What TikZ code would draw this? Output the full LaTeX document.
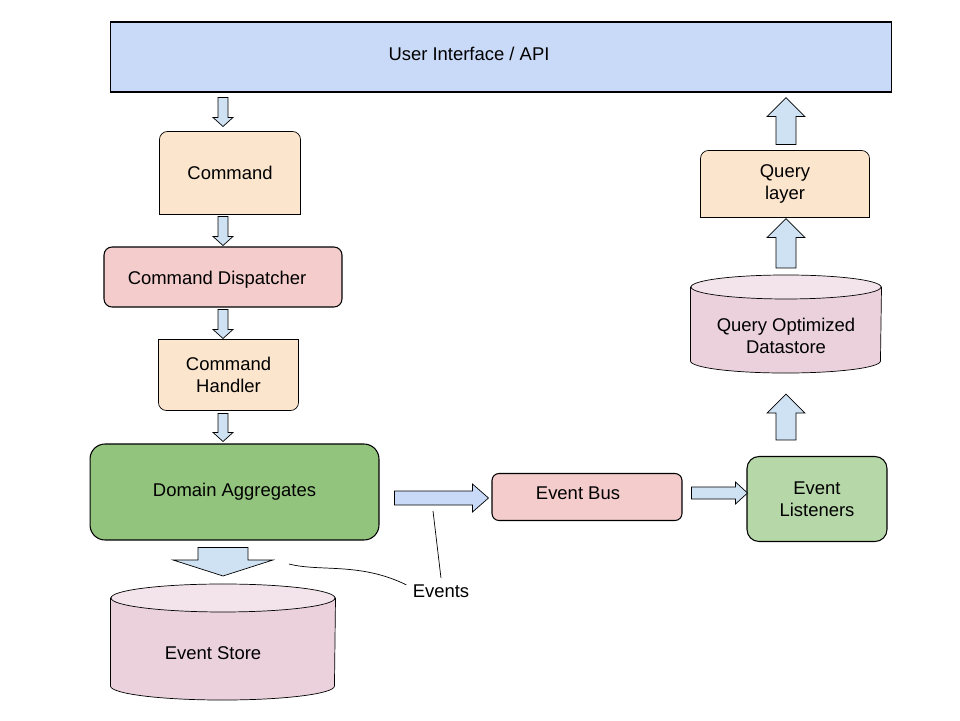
\documentclass[tikz,border=0pt]{standalone}
\usepackage{fontspec}
\setmainfont{Liberation Sans}
\usetikzlibrary{calc,backgrounds}

\definecolor{uiblue}{HTML}{C9DAF8}
\definecolor{arrblue}{HTML}{CFE2F3}
\definecolor{cmdorange}{HTML}{FCE5CD}
\definecolor{busred}{HTML}{F4CCCC}
\definecolor{agggreen}{HTML}{93C47D}
\definecolor{lstgreen}{HTML}{B6D7A8}
\definecolor{dbpink}{HTML}{EAD1DC}
\definecolor{dbtop}{HTML}{F2E4EA}

% block arrow: [style]{from}{to}{shaft half width}{head half width}{head length}
\newcommand{\blockarrow}[6][]{%
  \draw [blk, #1] let \p1=#2, \p2=#3, \p3=($(\p2)-(\p1)$),
    \n1={veclen(\x3,\y3)}, \n2={atan2(\y3,\x3)} in
    ($(\p1)+(\n2+90:#4)$) -- ++(\n2:\n1-#6) -- ++(\n2+90:#5-#4) -- (\p2)
    -- ($(\p2)+(\n2+180:#6)+(\n2-90:#5)$) -- ++(\n2+90:#5-#4)
    -- ++(\n2+180:\n1-#6) -- cycle;}

\begin{document}
\begin{tikzpicture}[x=0.02cm, y=-0.02cm, line width=0.6pt,
		every node/.style={font=\fontsize{10.5}{12.5}\selectfont, align=center},
		blk/.style={draw=black, fill=arrblue, line join=miter}]
		\useasboundingbox (0,0) rectangle (960,720);

		\node [draw, fill=uiblue, minimum width=15.64cm, minimum height=1.4cm,
			label={[name=uitxt, shift={(-32,-3)}]center:User Interface / API}] (ui) at (501,57) {};
		\node [minimum width=2.8cm, minimum height=1.64cm] (cmd) at (230,173) {Command};
		\node [draw, rounded corners=0.16cm, fill=busred, minimum width=4.76cm, minimum height=1.2cm,
			label={[name=disptxt, shift={(-6,3)}]center:Command Dispatcher}] (disp) at (223,277) {};
		\node [minimum width=2.78cm, minimum height=1.4cm] (hdl) at (228.5,375) {Command\\Handler};
		\node [draw, rounded corners=0.3cm, fill=agggreen, minimum width=5.78cm, minimum height=1.92cm] (agg) at (234.5,492) {Domain Aggregates};
		\node [minimum width=4.48cm, minimum height=1.74cm,
			label={[name=storetxt, shift={(-10,-3)}]center:Event Store}] (store) at (223,656) {};
		\node [draw, rounded corners=0.14cm, fill=busred, minimum width=3.8cm, minimum height=0.94cm,
			label={[name=bustxt, shift={(-9,-4)}]center:Event Bus}] (bus) at (587,497) {};
		\node [draw, rounded corners=0.24cm, fill=lstgreen, minimum width=2.8cm, minimum height=1.7cm] (lst) at (817,499) {Event\\Listeners};
		\node [minimum width=3.8cm, minimum height=1.46cm] (qds) at (786,336) {Query Optimized\\Datastore};
		\node [minimum width=3.36cm, minimum height=1.32cm] (qry) at (785,184) {Query\\layer};
		\node [] (lbl) at (441,591) {Events};
		\coordinate (evA) at (289,564);
		\coordinate (evB) at (433,511);

		\begin{pgfonlayer}{background}
		\draw [fill=cmdorange] (cmd.south west) [rounded corners=0.16cm] -- (cmd.north west) -- (cmd.north east) [sharp corners] -- (cmd.south east) -- cycle;
		\draw [fill=cmdorange] (hdl.north west) [rounded corners=0.16cm] -- (hdl.south west) -- (hdl.south east) [sharp corners] -- (hdl.north east) -- cycle;
		\draw [fill=cmdorange] (qry.south west) [rounded corners=0.16cm] -- (qry.north west) -- (qry.north east) [sharp corners] -- (qry.south east) -- cycle;

		\draw [fill=dbpink] ([yshift=0.28cm]store.north west) -- ([yshift=0.28cm]store.south west) arc [start angle=180, end angle=360, x radius=2.24cm, y radius=0.28cm] -- ([yshift=0.28cm]store.north east) -- cycle;
		\draw [fill=dbtop] ([yshift=0.28cm]store.north) ellipse [x radius=2.24cm, y radius=0.28cm];
		\draw [fill=dbpink] ([yshift=0.24cm]qds.north west) -- ([yshift=0.24cm]qds.south west) arc [start angle=180, end angle=360, x radius=1.9cm, y radius=0.24cm] -- ([yshift=0.24cm]qds.north east) -- cycle;
		\draw [fill=dbtop] ([yshift=0.24cm]qds.north) ellipse [x radius=1.9cm, y radius=0.24cm];
		\end{pgfonlayer}

		\blockarrow{($(ui.south -| disp)+(0,5)$)}{($(cmd.north -| disp)+(0,-5)$)}{0.1cm}{0.2cm}{0.18cm}
		\blockarrow{($(cmd.south -| disp)+(0,2)$)}{($(disp.north)+(0,-1)$)}{0.1cm}{0.2cm}{0.18cm}
		\blockarrow{($(disp.south)+(0,2)$)}{($(hdl.north -| disp)+(0,-1)$)}{0.1cm}{0.2cm}{0.18cm}
		\blockarrow{($(hdl.south -| disp)+(0,3)$)}{($(agg.north -| disp)+(0,-2)$)}{0.1cm}{0.2cm}{0.18cm}
		\blockarrow{($(agg.south -| store)+(0,7)$)}{($(store.north)+(0,-36)$)}{0.5cm}{1.0cm}{0.32cm}
		\blockarrow[fill=uiblue]{($(agg.east |- bus)+(15,1)$)}{($(bus.west)+(-3,1)$)}{0.14cm}{0.28cm}{0.32cm}
		\blockarrow{($(bus.east)+(9,-4)$)}{($(lst.west |- bus)+(1,-4)$)}{0.12cm}{0.22cm}{0.24cm}
		\blockarrow{($(lst.north -| qds)+(0,-16)$)}{($(qds.south)+(0,21)$)}{0.2cm}{0.38cm}{0.38cm}
		\blockarrow{($(qds.north)+(0,-31)$)}{($(qry.south -| qds)+(0,1)$)}{0.2cm}{0.38cm}{0.38cm}
		\blockarrow{($(qry.north -| qds)+(0,-6)$)}{($(ui.south -| qds)+(0,5)$)}{0.2cm}{0.38cm}{0.38cm}

		\draw (lbl.170) .. controls (360,562) and (320,572) .. (evA);
		\draw (lbl.north) -- (evB);
\end{tikzpicture}
\end{document}
